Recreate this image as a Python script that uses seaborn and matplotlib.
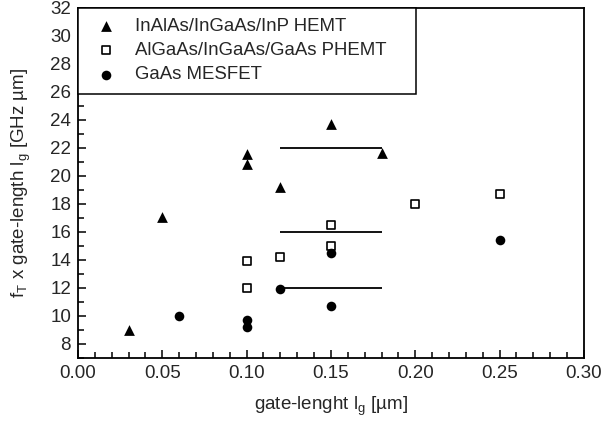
import matplotlib
matplotlib.use("Agg")
import matplotlib.pyplot as plt
from matplotlib.ticker import MultipleLocator, FormatStrFormatter
import seaborn as sns

sns.set_theme(style="ticks")
plt.rcParams["font.family"] = ["Liberation Sans", "DejaVu Sans"]
plt.rcParams["mathtext.fontset"] = "custom"
plt.rcParams["mathtext.rm"] = "Liberation Sans"
plt.rcParams["mathtext.it"] = "Liberation Sans"

# gate length [um] and fT x Lg [GHz um] per device family
hemt_lg = [0.03, 0.05, 0.10, 0.10, 0.12, 0.15, 0.18]
hemt_ft = [9.0, 17.05, 21.57, 20.86, 19.24, 23.71, 21.67]
phemt_lg = [0.10, 0.10, 0.12, 0.15, 0.15, 0.20, 0.25]
phemt_ft = [13.95, 12.0, 14.24, 16.5, 15.0, 17.98, 18.74]
mesfet_lg = [0.06, 0.10, 0.10, 0.12, 0.15, 0.15, 0.25]
mesfet_ft = [10.02, 9.71, 9.19, 11.93, 14.48, 10.74, 15.43]

# horizontal guide lines (level, from, to)
guide_y = [22.0, 16.0, 12.0]
guide_x0 = [0.12, 0.12, 0.12]
guide_x1 = [0.18, 0.18, 0.18]

labels = ["InAlAs/InGaAs/InP HEMT", "AlGaAs/InGaAs/GaAs PHEMT", "GaAs MESFET"]

fig = plt.figure(figsize=(6.05, 4.24), dpi=100)
ax = fig.add_axes([0.129, 0.1557, 0.836, 0.8255])

ax.hlines(guide_y, guide_x0, guide_x1, color="black", lw=1.3, zorder=1)

sns.scatterplot(x=hemt_lg, y=hemt_ft, marker="^", s=60, color="black",
                edgecolor="black", linewidth=0, label=labels[0], ax=ax, zorder=3)
sns.scatterplot(x=phemt_lg, y=phemt_ft, marker="s", s=30, facecolor="white",
                edgecolor="black", linewidth=1.2, label=labels[1], ax=ax, zorder=3)
sns.scatterplot(x=mesfet_lg, y=mesfet_ft, marker="o", s=48, color="black",
                edgecolor="black", linewidth=0, label=labels[2], ax=ax, zorder=3)

ax.set_xlim(0, 0.30)
ax.set_ylim(7, 32)
ax.xaxis.set_major_locator(MultipleLocator(0.05))
ax.xaxis.set_minor_locator(MultipleLocator(0.01))
ax.set_yticks(range(8, 33, 2))
ax.yaxis.set_minor_locator(MultipleLocator(1))
ax.xaxis.set_major_formatter(FormatStrFormatter("%.2f"))
ax.tick_params(which="both", direction="in", top=False, right=False,
               labelsize=13.5, width=1.1, color="black", pad=5)
ax.tick_params(which="major", length=6)
ax.tick_params(which="minor", length=4)
for sp in ax.spines.values():
    sp.set_linewidth(1.3)
    sp.set_color("black")

ax.set_xlabel(r"gate-lenght l$_\mathregular{g}$ [µm]", fontsize=13.5, labelpad=9)
ax.set_ylabel(r"f$_\mathregular{T}$ x gate-length l$_\mathregular{g}$ [GHz µm]",
              fontsize=13.5, labelpad=12)

leg = ax.legend(loc="upper left", bbox_to_anchor=(0, 1, 0.668, 0), mode="expand",
                borderaxespad=0, fontsize=13.4, frameon=True, fancybox=False,
                edgecolor="black", handletextpad=0.6, borderpad=0.55,
                labelspacing=0.38, handlelength=1.9)
leg.get_frame().set_linewidth(1.1)
leg.get_frame().set_alpha(1)

fig.savefig("out.png", dpi=100, facecolor="white")
